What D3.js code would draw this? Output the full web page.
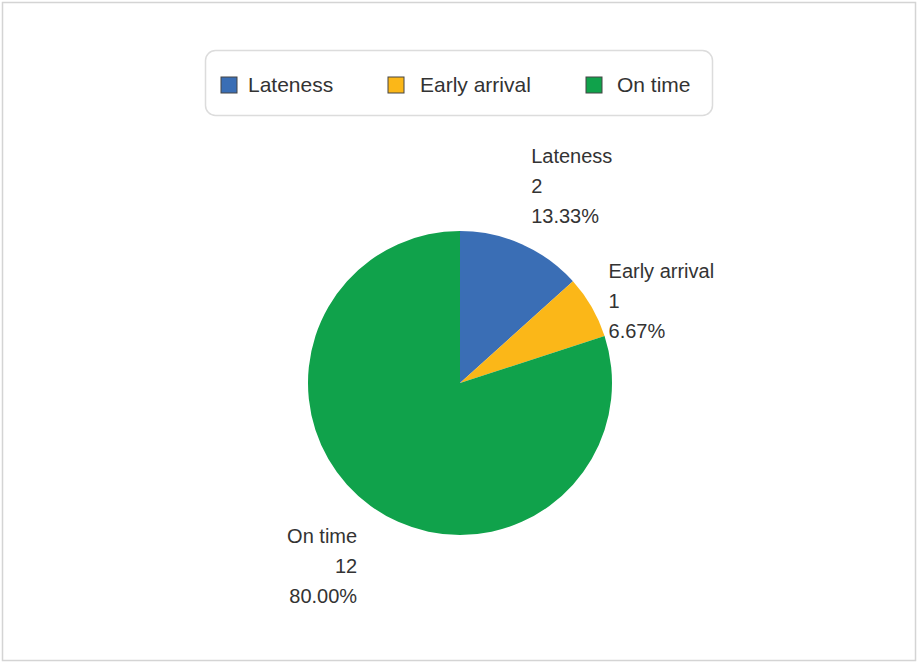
<!DOCTYPE html>
<html>
<head>
<meta charset="utf-8">
<script src="https://d3js.org/d3.v7.min.js"></script>
<style>
  html, body { margin: 0; padding: 0; background: #fff; }
  svg text { font-family: "Liberation Sans", Arial, sans-serif; fill: #333; }
</style>
</head>
<body>
<svg id="chart" width="918" height="663"></svg>
<script>
// data
const categories = ['Lateness', 'Early arrival', 'On time'];
const counts     = [2, 1, 12];
const colours    = ['#3a6eb5', '#fbb718', '#10a24b'];

const W = 918, H = 663;
const cx = 460, cy = 383, radius = 152;

const svg = d3.select('#chart');

// outer frame
svg.append('rect')
  .attr('x', 2.5).attr('y', 2.5)
  .attr('width', W - 5).attr('height', H - 5)
  .attr('fill', '#fff')
  .attr('stroke', '#d4d4d4').attr('stroke-width', 1.5);

const total = d3.sum(counts);
const data = categories.map((c, i) => ({ name: c, value: counts[i] }));
const colour = d3.scaleOrdinal().domain(categories).range(colours);

const pie = d3.pie().value(d => d.value).sort(null);
const arc = d3.arc().innerRadius(0).outerRadius(radius);

const g = svg.append('g').attr('transform', `translate(${cx},${cy})`);
const slices = pie(data);

g.selectAll('path')
  .data(slices)
  .enter().append('path')
  .attr('d', arc)
  .attr('fill', d => colour(d.data.name));

// labels: name / count / percent, placed just outside each slice
const lineH = 30;
const labelDist = 175;
const lab = g.selectAll('g.lbl')
  .data(slices)
  .enter().append('g')
  .attr('class', 'lbl')
  .attr('transform', d => {
    const a = (d.startAngle + d.endAngle) / 2;
    const x = Math.sin(a) * labelDist;
    const y = -Math.cos(a) * labelDist;
    const c = Math.cos(a);
    // top labels sit above the point, bottom ones below it, side ones centred
    let dy;
    if (c > 0.7) dy = -2 * lineH;
    else if (c < -0.3) dy = 18;
    else dy = -lineH + 12;
    return `translate(${x},${y + dy})`;
  });

lab.each(function(d) {
  const a = (d.startAngle + d.endAngle) / 2;
  const anchor = Math.sin(a) >= 0 ? 'start' : 'end';
  const lines = [d.data.name, d.data.value, (d.data.value / total * 100).toFixed(2) + '%'];
  d3.select(this).selectAll('text')
    .data(lines)
    .enter().append('text')
    .attr('x', anchor == 'start' && Math.cos(a) < 0.7 ? -3 : 0)
    .attr('y', (t, i) => i * lineH)
    .attr('text-anchor', anchor)
    .attr('font-size', 20)
    .text(t => t);
});

// legend box
const legend = svg.append('g').attr('transform', 'translate(205,50)');
legend.append('rect')
  .attr('x', 0.5).attr('y', 0.5)
  .attr('width', 507).attr('height', 65)
  .attr('rx', 10)
  .attr('fill', '#fff')
  .attr('stroke', '#dcdcdc').attr('stroke-width', 1.5);

const legendX = [16, 183, 381];
const item = legend.selectAll('g.item')
  .data(categories)
  .enter().append('g')
  .attr('class', 'item')
  .attr('transform', (d, i) => `translate(${legendX[i]},27)`);

item.append('rect')
  .attr('width', 16).attr('height', 16)
  .attr('fill', d => colour(d))
  .attr('stroke', '#444').attr('stroke-width', 1);

item.append('text')
  .attr('x', (d, i) => [27, 32, 31][i]).attr('y', 15)
  .attr('font-size', 21)
  .text(d => d);
</script>
</body>
</html>
